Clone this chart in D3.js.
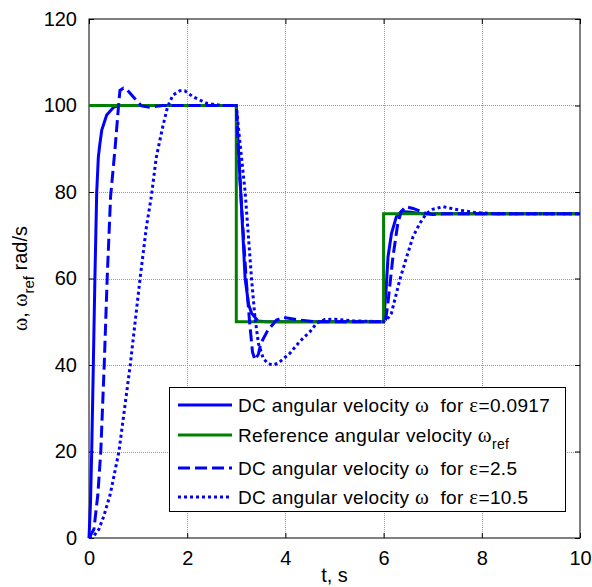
<!DOCTYPE html>
<html>
<head>
<meta charset="utf-8">
<script src="https://cdn.jsdelivr.net/npm/d3@7"></script>
<style>
  body { margin: 0; background: #fff; }
  svg { display: block; font-family: "Liberation Sans", Arial, sans-serif; }
</style>
</head>
<body>
<svg id="chart" width="592" height="587"></svg>
<script>
// time (s) / angular velocity (rad/s) pairs
const omegaEps0917 = [
  [0, 0], [0.03, 8], [0.055, 20], [0.088, 40], [0.12, 60], [0.157, 80], [0.19, 88],
  [0.22, 91], [0.26, 94.3], [0.36, 97.8], [0.5, 99.6], [0.6, 100], [3, 100],
  [3.04, 90.5], [3.09, 80], [3.18, 60], [3.25, 54], [3.31, 52], [3.44, 50.2], [3.6, 50],
  [6, 50], [6.05, 57.3], [6.09, 65], [6.16, 70.4], [6.26, 74.3], [6.36, 75.5],
  [6.5, 75.4], [6.8, 75], [10, 75]
];
const omegaRef = [
  [0, 100], [3, 100], [3, 50], [6, 50], [6, 75], [10, 75]
];
const omegaEps25 = [
  [0, 0], [0.1, 2], [0.18, 10], [0.24, 20], [0.31, 40], [0.37, 60], [0.44, 79],
  [0.53, 90], [0.6, 99.7], [0.63, 103.5], [0.7, 104], [0.77, 103.7], [0.9, 102],
  [1.07, 99.9], [1.24, 99.6], [1.5, 100], [3, 100], [3.04, 90], [3.1, 78], [3.2, 60],
  [3.27, 50], [3.33, 43], [3.38, 41.2], [3.45, 42.5], [3.5, 45], [3.64, 48], [3.82, 50.4],
  [3.95, 51], [4.3, 50.4], [4.6, 50], [6, 50], [6.04, 50.5], [6.08, 53.5], [6.19, 65],
  [6.29, 72.8], [6.36, 75.5], [6.45, 76.6], [6.6, 76.2], [6.87, 75], [7.0, 74.8],
  [7.3, 75], [10, 75]
];
const omegaEps105 = [
  [0, 0], [0.1, 0.5], [0.2, 2], [0.3, 5], [0.43, 10], [0.61, 20], [0.84, 40],
  [1.04, 60], [1.17, 72], [1.27, 79], [1.37, 88], [1.5, 95], [1.6, 99.7],
  [1.71, 102.4], [1.85, 103.4], [1.95, 103.4], [2.12, 102], [2.4, 100.5], [2.7, 100],
  [3, 100], [3.06, 93], [3.18, 80], [3.31, 60], [3.38, 51], [3.45, 45], [3.55, 41.5],
  [3.65, 40.3], [3.75, 40], [3.85, 40.4], [4.09, 42.7], [4.29, 45.4], [4.5, 47.7],
  [4.64, 49.7], [4.8, 50.5], [5.0, 50.6], [5.4, 50.2], [6, 50], [6.1, 51], [6.16, 52],
  [6.33, 59.7], [6.47, 65], [6.6, 69.7], [6.74, 72.8], [6.87, 75], [7.0, 76],
  [7.21, 76.6], [7.55, 75.8], [7.9, 75.2], [8.3, 75], [10, 75]
];

const xTicks = [0, 2, 4, 6, 8, 10];
const yTicks = [0, 20, 40, 60, 80, 100, 120];

const legendEps = ["0.0917", "2.5", "10.5"];

const MARGIN = {top: 19, right: 12, bottom: 49, left: 89};
const WIDTH = 592, HEIGHT = 587;

const svg = d3.select('#chart');

const xScale = d3.scaleLinear()
    .domain([0, 10])
    .range([MARGIN.left, WIDTH - MARGIN.right]);
const yScale = d3.scaleLinear()
    .domain([0, 120])
    .range([HEIGHT - MARGIN.bottom, MARGIN.top]);

const x0 = xScale.range()[0], x1 = xScale.range()[1];
const y0 = yScale.range()[0], y1 = yScale.range()[1];

svg.append('rect').attr('width', WIDTH).attr('height', HEIGHT).attr('fill', '#fff');

// grid
const grid = svg.append('g').attr('stroke', '#999').attr('stroke-width', 1)
    .attr('stroke-dasharray', '1,1');
grid.selectAll('.gx').data(xTicks.slice(1, -1)).join('line')
    .attr('x1', d => Math.round(xScale(d)) + 0.5).attr('x2', d => Math.round(xScale(d)) + 0.5)
    .attr('y1', y1).attr('y2', y0);
grid.selectAll('.gy').data(yTicks.slice(1, -1)).join('line')
    .attr('x1', x0).attr('x2', x1)
    .attr('y1', d => Math.round(yScale(d)) + 0.5).attr('y2', d => Math.round(yScale(d)) + 0.5);

// axes (ticks point inward, MATLAB style)
const fontSize = 20;
const xAxis = d3.axisBottom(xScale).tickValues(xTicks).tickSizeInner(-5).tickSizeOuter(0).tickPadding(13);
const yAxis = d3.axisLeft(yScale).tickValues(yTicks).tickSizeInner(-5).tickSizeOuter(0).tickPadding(12);
const xTop = d3.axisTop(xScale).tickValues(xTicks).tickSizeInner(-5).tickSizeOuter(0).tickFormat('');
const yRight = d3.axisRight(yScale).tickValues(yTicks).tickSizeInner(-5).tickSizeOuter(0).tickFormat('');

svg.append('g').attr('transform', `translate(0,${y0})`).call(xAxis);
svg.append('g').attr('transform', `translate(${x0},0)`).call(yAxis);
svg.append('g').attr('transform', `translate(0,${y1})`).call(xTop);
svg.append('g').attr('transform', `translate(${x1},0)`).call(yRight);

svg.selectAll('.tick text').attr('font-size', fontSize).attr('fill', '#000')
    .attr('font-family', '"Liberation Sans", Arial, sans-serif');
svg.selectAll('.domain').remove();
svg.selectAll('.tick line').attr('stroke', '#000');

svg.append('rect')
    .attr('x', x0).attr('y', y1).attr('width', x1 - x0).attr('height', y0 - y1)
    .attr('fill', 'none').attr('stroke', '#000').attr('stroke-width', 1);

// curves
const line = d3.line().x(d => xScale(d[0])).y(d => yScale(d[1]));
const series = [
  {data: omegaEps0917, color: '#0000ff', dash: null},
  {data: omegaRef, color: '#008000', dash: null},
  {data: omegaEps25, color: '#0000ff', dash: '12,5'},
  {data: omegaEps105, color: '#0000ff', dash: '3,3'}
];
svg.append('g').selectAll('path').data(series).join('path')
    .attr('d', d => line(d.data))
    .attr('fill', 'none')
    .attr('stroke', d => d.color)
    .attr('stroke-width', 3)
    .attr('stroke-dasharray', d => d.dash);

// axis labels
svg.append('text')
    .attr('x', (x0 + x1) / 2).attr('y', 582)
    .attr('text-anchor', 'middle').attr('font-size', fontSize)
    .text('t, s');

const yLab = svg.append('text')
    .attr('transform', `translate(27,${(y0 + y1) / 2}) rotate(-90)`)
    .attr('text-anchor', 'middle').attr('font-size', fontSize);
yLab.append('tspan').attr('font-family', '"Liberation Serif", serif').text('ω');
yLab.append('tspan').text(', ');
yLab.append('tspan').attr('font-family', '"Liberation Serif", serif').text('ω');
yLab.append('tspan').attr('font-size', 15).attr('dy', 7).text('ref');
yLab.append('tspan').attr('dy', -7).text(' rad/s');

// legend
const lg = svg.append('g');
lg.append('rect').attr('x', 169.5).attr('y', 387.5).attr('width', 396).attr('height', 124)
    .attr('fill', '#fff').attr('stroke', '#000');
const rows = [
  {s: series[0], y: 405, kind: 'eps', eps: legendEps[0]},
  {s: series[1], y: 435, kind: 'ref'},
  {s: series[2], y: 468, kind: 'eps', eps: legendEps[1]},
  {s: series[3], y: 497, kind: 'eps', eps: legendEps[2]}
];
rows.forEach(r => {
  lg.append('line').attr('x1', 178).attr('x2', 232).attr('y1', r.y).attr('y2', r.y)
    .attr('stroke', r.s.color).attr('stroke-width', 3).attr('stroke-dasharray', r.s.dash);
  const t = lg.append('text').attr('x', 238).attr('y', r.y + 7).attr('font-size', 19)
    .attr('letter-spacing', 0.35).style('white-space', 'pre');
  if (r.kind === 'eps') {
    t.append('tspan').text('DC angular velocity ');
    t.append('tspan').attr('font-family', '"Liberation Serif", serif').attr('font-size', 21).text('ω');
    t.append('tspan').text('  for ');
    t.append('tspan').attr('font-family', '"Liberation Serif", serif').attr('font-size', 21).text('ε');
    t.append('tspan').text('=' + r.eps);
  } else {
    t.append('tspan').text('Reference angular velocity ');
    t.append('tspan').attr('font-family', '"Liberation Serif", serif').attr('font-size', 21).text('ω');
    t.append('tspan').attr('font-size', 14).attr('dy', 7).text('ref');
  }
});
</script>
</body>
</html>
